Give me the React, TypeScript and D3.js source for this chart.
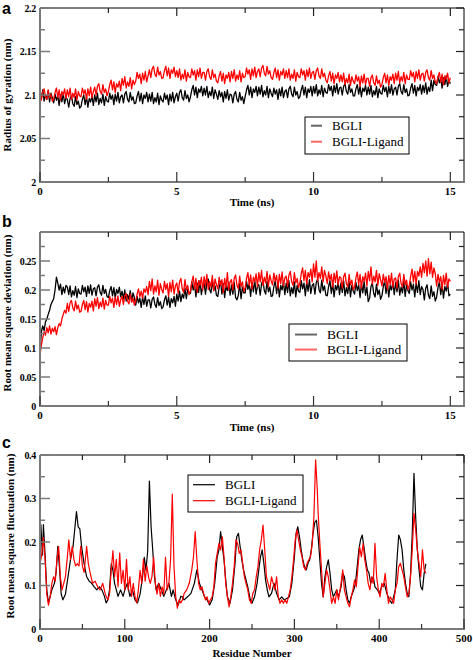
import React from "react";
import * as d3 from "d3";

const W = 473;
const H = 660;

// ---------- data (sampled every 0.05 ns) ----------
const timeNs: number[] = d3.range(0, 301).map((i) => i / 20);

const rgBGLI = [
  2.104, 2.096, 2.106, 2.093, 2.100, 2.095, 2.105, 2.092, 2.102, 2.097,
  2.091, 2.101, 2.094, 2.099, 2.088, 2.100, 2.092, 2.102, 2.090, 2.097,
  2.095, 2.086, 2.096, 2.099, 2.090, 2.087, 2.098, 2.089, 2.093, 2.085,
  2.087, 2.095, 2.100, 2.089, 2.098, 2.086, 2.096, 2.092, 2.099, 2.088,
  2.100, 2.092, 2.102, 2.089, 2.096, 2.091, 2.101, 2.088, 2.098, 2.093,
  2.092, 2.102, 2.095, 2.100, 2.089, 2.101, 2.093, 2.103, 2.091, 2.098,
  2.100, 2.091, 2.101, 2.104, 2.095, 2.092, 2.103, 2.094, 2.098, 2.090,
  2.091, 2.099, 2.104, 2.093, 2.102, 2.090, 2.100, 2.096, 2.103, 2.092,
  2.101, 2.093, 2.103, 2.090, 2.097, 2.092, 2.102, 2.089, 2.099, 2.094,
  2.092, 2.102, 2.095, 2.100, 2.089, 2.101, 2.093, 2.103, 2.091, 2.098,
  2.102, 2.093, 2.103, 2.106, 2.097, 2.094, 2.105, 2.096, 2.100, 2.092,
  2.098, 2.106, 2.111, 2.100, 2.109, 2.097, 2.107, 2.103, 2.110, 2.099,
  2.108, 2.100, 2.110, 2.097, 2.104, 2.099, 2.109, 2.096, 2.106, 2.101,
  2.095, 2.105, 2.098, 2.103, 2.092, 2.104, 2.096, 2.106, 2.094, 2.101,
  2.100, 2.091, 2.101, 2.104, 2.095, 2.092, 2.103, 2.094, 2.098, 2.090,
  2.098, 2.106, 2.111, 2.100, 2.109, 2.097, 2.107, 2.103, 2.110, 2.099,
  2.109, 2.101, 2.111, 2.098, 2.105, 2.100, 2.110, 2.097, 2.107, 2.102,
  2.098, 2.108, 2.101, 2.106, 2.095, 2.107, 2.099, 2.109, 2.097, 2.104,
  2.106, 2.097, 2.107, 2.110, 2.101, 2.098, 2.109, 2.100, 2.104, 2.096,
  2.098, 2.106, 2.111, 2.100, 2.109, 2.097, 2.107, 2.103, 2.110, 2.099,
  2.110, 2.102, 2.112, 2.099, 2.106, 2.101, 2.111, 2.098, 2.108, 2.103,
  2.102, 2.112, 2.105, 2.110, 2.099, 2.111, 2.103, 2.113, 2.101, 2.108,
  2.109, 2.100, 2.110, 2.113, 2.104, 2.101, 2.112, 2.103, 2.107, 2.099,
  2.099, 2.107, 2.112, 2.101, 2.110, 2.098, 2.108, 2.104, 2.111, 2.100,
  2.109, 2.101, 2.111, 2.098, 2.105, 2.100, 2.110, 2.097, 2.107, 2.102,
  2.101, 2.111, 2.104, 2.109, 2.098, 2.110, 2.102, 2.112, 2.100, 2.107,
  2.109, 2.100, 2.110, 2.113, 2.104, 2.101, 2.112, 2.103, 2.107, 2.099,
  2.100, 2.108, 2.113, 2.102, 2.111, 2.099, 2.109, 2.105, 2.112, 2.101,
  2.111, 2.103, 2.114, 2.101, 2.109, 2.104, 2.117, 2.105, 2.117, 2.112,
  2.111, 2.121, 2.114, 2.119, 2.108, 2.120, 2.112, 2.122, 2.110, 2.117,
  2.113,
];

const rgLigand = [
  2.103, 2.094, 2.104, 2.107, 2.098, 2.095, 2.106, 2.097, 2.101, 2.093,
  2.095, 2.103, 2.108, 2.097, 2.106, 2.094, 2.104, 2.100, 2.107, 2.096,
  2.106, 2.098, 2.108, 2.095, 2.102, 2.097, 2.107, 2.094, 2.104, 2.099,
  2.098, 2.108, 2.101, 2.106, 2.095, 2.107, 2.099, 2.109, 2.097, 2.104,
  2.109, 2.100, 2.110, 2.113, 2.104, 2.101, 2.112, 2.103, 2.107, 2.099,
  2.104, 2.112, 2.117, 2.106, 2.115, 2.103, 2.113, 2.109, 2.116, 2.105,
  2.119, 2.111, 2.121, 2.108, 2.115, 2.110, 2.120, 2.107, 2.117, 2.112,
  2.116, 2.126, 2.119, 2.124, 2.113, 2.125, 2.117, 2.127, 2.115, 2.122,
  2.129, 2.120, 2.130, 2.133, 2.124, 2.121, 2.132, 2.123, 2.127, 2.119,
  2.120, 2.128, 2.133, 2.122, 2.131, 2.119, 2.129, 2.125, 2.132, 2.121,
  2.128, 2.120, 2.130, 2.117, 2.124, 2.119, 2.129, 2.116, 2.126, 2.121,
  2.120, 2.130, 2.123, 2.128, 2.117, 2.129, 2.121, 2.131, 2.119, 2.126,
  2.126, 2.117, 2.127, 2.130, 2.121, 2.118, 2.129, 2.120, 2.124, 2.116,
  2.114, 2.122, 2.127, 2.116, 2.125, 2.113, 2.123, 2.119, 2.126, 2.115,
  2.127, 2.119, 2.129, 2.116, 2.123, 2.118, 2.128, 2.115, 2.125, 2.120,
  2.121, 2.131, 2.124, 2.129, 2.118, 2.130, 2.122, 2.132, 2.120, 2.127,
  2.130, 2.121, 2.131, 2.134, 2.125, 2.122, 2.133, 2.124, 2.128, 2.120,
  2.118, 2.126, 2.131, 2.120, 2.129, 2.117, 2.127, 2.123, 2.130, 2.119,
  2.128, 2.120, 2.130, 2.117, 2.124, 2.119, 2.129, 2.116, 2.126, 2.121,
  2.120, 2.130, 2.123, 2.128, 2.117, 2.129, 2.121, 2.131, 2.119, 2.126,
  2.127, 2.118, 2.128, 2.131, 2.122, 2.119, 2.130, 2.121, 2.125, 2.117,
  2.114, 2.122, 2.127, 2.116, 2.125, 2.113, 2.123, 2.119, 2.126, 2.115,
  2.123, 2.115, 2.125, 2.112, 2.119, 2.114, 2.124, 2.111, 2.121, 2.116,
  2.113, 2.123, 2.116, 2.121, 2.110, 2.122, 2.114, 2.124, 2.112, 2.119,
  2.119, 2.110, 2.120, 2.123, 2.114, 2.111, 2.122, 2.113, 2.117, 2.109,
  2.112, 2.120, 2.125, 2.114, 2.123, 2.111, 2.121, 2.117, 2.124, 2.113,
  2.125, 2.117, 2.127, 2.114, 2.121, 2.116, 2.126, 2.113, 2.123, 2.118,
  2.118, 2.128, 2.121, 2.126, 2.115, 2.127, 2.119, 2.129, 2.117, 2.124,
  2.125, 2.116, 2.126, 2.129, 2.120, 2.117, 2.128, 2.119, 2.123, 2.115,
  2.113, 2.121, 2.126, 2.115, 2.124, 2.112, 2.122, 2.118, 2.125, 2.114,
  2.120,
];

const rmsdBGLI = [
  0.095, 0.128, 0.138, 0.130, 0.145, 0.150, 0.158, 0.165, 0.175, 0.180,
  0.185, 0.200, 0.222, 0.212, 0.200, 0.210, 0.192, 0.205, 0.195, 0.208,
  0.205, 0.192, 0.207, 0.188, 0.199, 0.191, 0.206, 0.187, 0.202, 0.194,
  0.193, 0.208, 0.197, 0.205, 0.189, 0.207, 0.194, 0.209, 0.191, 0.202,
  0.204, 0.190, 0.205, 0.209, 0.196, 0.191, 0.208, 0.194, 0.201, 0.189,
  0.187, 0.199, 0.206, 0.190, 0.204, 0.186, 0.201, 0.194, 0.205, 0.188,
  0.198, 0.185, 0.200, 0.181, 0.192, 0.184, 0.199, 0.180, 0.195, 0.187,
  0.174, 0.189, 0.178, 0.186, 0.170, 0.188, 0.175, 0.190, 0.172, 0.183,
  0.183, 0.169, 0.184, 0.188, 0.175, 0.170, 0.187, 0.173, 0.180, 0.168,
  0.171, 0.183, 0.190, 0.174, 0.188, 0.170, 0.185, 0.178, 0.189, 0.172,
  0.193, 0.181, 0.198, 0.180, 0.193, 0.186, 0.203, 0.185, 0.202, 0.195,
  0.194, 0.214, 0.200, 0.210, 0.188, 0.212, 0.196, 0.216, 0.192, 0.206,
  0.211, 0.193, 0.213, 0.219, 0.201, 0.195, 0.217, 0.199, 0.207, 0.191,
  0.189, 0.205, 0.215, 0.193, 0.211, 0.187, 0.207, 0.199, 0.213, 0.191,
  0.209, 0.193, 0.213, 0.187, 0.183, 0.191, 0.211, 0.185, 0.205, 0.195,
  0.195, 0.215, 0.201, 0.211, 0.189, 0.213, 0.197, 0.217, 0.193, 0.207,
  0.209, 0.191, 0.211, 0.217, 0.199, 0.193, 0.215, 0.197, 0.205, 0.189,
  0.190, 0.206, 0.216, 0.194, 0.212, 0.188, 0.208, 0.200, 0.214, 0.192,
  0.212, 0.196, 0.216, 0.190, 0.204, 0.194, 0.214, 0.188, 0.208, 0.198,
  0.196, 0.216, 0.202, 0.212, 0.190, 0.214, 0.198, 0.218, 0.194, 0.208,
  0.211, 0.193, 0.213, 0.219, 0.201, 0.195, 0.217, 0.199, 0.207, 0.191,
  0.190, 0.206, 0.216, 0.194, 0.212, 0.188, 0.208, 0.200, 0.214, 0.192,
  0.212, 0.196, 0.216, 0.190, 0.204, 0.194, 0.214, 0.188, 0.208, 0.198,
  0.193, 0.213, 0.199, 0.209, 0.187, 0.211, 0.195, 0.215, 0.191, 0.205,
  0.180, 0.186, 0.206, 0.212, 0.194, 0.188, 0.210, 0.192, 0.200, 0.184,
  0.190, 0.206, 0.216, 0.194, 0.212, 0.188, 0.208, 0.200, 0.214, 0.192,
  0.213, 0.197, 0.217, 0.191, 0.205, 0.195, 0.215, 0.189, 0.209, 0.199,
  0.194, 0.214, 0.200, 0.210, 0.188, 0.212, 0.196, 0.216, 0.192, 0.206,
  0.201, 0.183, 0.203, 0.209, 0.191, 0.185, 0.207, 0.189, 0.197, 0.181,
  0.188, 0.204, 0.214, 0.192, 0.210, 0.186, 0.206, 0.198, 0.212, 0.190,
  0.193,
];

const rmsdLigand = [
  0.088, 0.105, 0.118, 0.128, 0.122, 0.135, 0.126, 0.138, 0.124, 0.134,
  0.128, 0.137, 0.123, 0.135, 0.142, 0.138, 0.150, 0.158, 0.165, 0.160,
  0.177, 0.163, 0.178, 0.182, 0.169, 0.164, 0.181, 0.167, 0.174, 0.162,
  0.163, 0.175, 0.182, 0.166, 0.180, 0.162, 0.177, 0.170, 0.181, 0.164,
  0.185, 0.172, 0.187, 0.168, 0.179, 0.171, 0.186, 0.167, 0.182, 0.174,
  0.174, 0.189, 0.178, 0.186, 0.170, 0.188, 0.175, 0.190, 0.172, 0.183,
  0.189, 0.175, 0.190, 0.194, 0.181, 0.176, 0.193, 0.179, 0.186, 0.174,
  0.181, 0.193, 0.202, 0.188, 0.198, 0.186, 0.202, 0.196, 0.206, 0.192,
  0.215, 0.199, 0.219, 0.193, 0.207, 0.197, 0.217, 0.191, 0.211, 0.201,
  0.195, 0.215, 0.201, 0.211, 0.189, 0.213, 0.197, 0.217, 0.193, 0.207,
  0.212, 0.194, 0.214, 0.220, 0.202, 0.196, 0.218, 0.200, 0.208, 0.192,
  0.198, 0.214, 0.224, 0.202, 0.220, 0.196, 0.216, 0.208, 0.222, 0.200,
  0.223, 0.207, 0.227, 0.201, 0.215, 0.205, 0.225, 0.199, 0.219, 0.209,
  0.202, 0.222, 0.208, 0.218, 0.196, 0.220, 0.204, 0.230, 0.200, 0.214,
  0.218, 0.200, 0.220, 0.226, 0.208, 0.202, 0.224, 0.206, 0.214, 0.198,
  0.204, 0.220, 0.230, 0.208, 0.226, 0.202, 0.222, 0.214, 0.228, 0.206,
  0.230, 0.214, 0.234, 0.208, 0.222, 0.212, 0.232, 0.206, 0.226, 0.216,
  0.209, 0.229, 0.215, 0.225, 0.203, 0.227, 0.211, 0.231, 0.207, 0.221,
  0.224, 0.206, 0.226, 0.232, 0.214, 0.208, 0.230, 0.212, 0.220, 0.204,
  0.212, 0.228, 0.238, 0.216, 0.234, 0.210, 0.230, 0.222, 0.236, 0.214,
  0.245, 0.222, 0.250, 0.216, 0.230, 0.220, 0.240, 0.214, 0.234, 0.224,
  0.211, 0.231, 0.217, 0.227, 0.205, 0.229, 0.213, 0.233, 0.209, 0.223,
  0.221, 0.203, 0.223, 0.229, 0.211, 0.205, 0.227, 0.209, 0.217, 0.201,
  0.205, 0.221, 0.231, 0.209, 0.227, 0.203, 0.223, 0.215, 0.229, 0.207,
  0.232, 0.216, 0.240, 0.210, 0.224, 0.214, 0.234, 0.208, 0.228, 0.218,
  0.207, 0.227, 0.213, 0.223, 0.201, 0.225, 0.209, 0.229, 0.205, 0.219,
  0.221, 0.203, 0.223, 0.229, 0.211, 0.205, 0.227, 0.209, 0.217, 0.201,
  0.208, 0.224, 0.236, 0.214, 0.232, 0.210, 0.232, 0.224, 0.240, 0.222,
  0.246, 0.230, 0.250, 0.224, 0.254, 0.228, 0.248, 0.222, 0.238, 0.228,
  0.207, 0.227, 0.213, 0.223, 0.201, 0.225, 0.209, 0.229, 0.205, 0.219,
  0.215,
];

// [residue, RMSF (nm)]
const rmsfBGLI: [number, number][] = [
  [0, 0.18], [1, 0.24], [2, 0.2], [3, 0.17], [4, 0.24], [6, 0.17], [8, 0.09], [10, 0.06],
  [12, 0.075], [14, 0.09], [17, 0.105], [19, 0.13], [21, 0.19], [23, 0.14], [25, 0.08],
  [27, 0.067], [30, 0.08], [33, 0.12], [36, 0.16], [39, 0.19], [41, 0.23], [43, 0.27],
  [45, 0.235], [47, 0.23], [49, 0.19], [52, 0.15], [55, 0.12], [58, 0.11], [61, 0.105],
  [64, 0.097], [67, 0.09], [70, 0.097], [73, 0.09], [76, 0.075], [78, 0.06], [80, 0.067],
  [82, 0.09], [84, 0.15], [86, 0.135], [88, 0.105], [90, 0.09], [92, 0.075], [95, 0.09],
  [98, 0.075], [100, 0.09], [103, 0.105], [106, 0.075], [109, 0.09], [112, 0.067],
  [115, 0.06], [118, 0.08], [121, 0.12], [123, 0.165], [125, 0.135], [127, 0.18],
  [129, 0.34], [131, 0.235], [133, 0.18], [135, 0.12], [137, 0.09], [140, 0.105],
  [143, 0.09], [146, 0.075], [149, 0.09], [152, 0.105], [155, 0.075], [157, 0.09],
  [160, 0.067], [163, 0.055], [166, 0.075], [168, 0.074], [170, 0.067], [174, 0.074],
  [178, 0.082], [182, 0.105], [185, 0.136], [188, 0.105], [191, 0.09], [194, 0.074],
  [197, 0.067], [200, 0.055], [203, 0.067], [206, 0.105], [209, 0.166], [211, 0.182],
  [213, 0.224], [215, 0.189], [217, 0.159], [219, 0.113], [221, 0.074], [224, 0.059],
  [227, 0.09], [230, 0.151], [232, 0.212], [234, 0.22], [236, 0.189], [238, 0.159],
  [240, 0.136], [242, 0.12], [245, 0.097], [248, 0.067], [250, 0.059], [253, 0.074],
  [256, 0.105], [258, 0.136], [260, 0.166], [262, 0.182], [264, 0.151], [266, 0.113],
  [268, 0.09], [270, 0.074], [273, 0.082], [276, 0.105], [279, 0.082], [282, 0.067],
  [285, 0.074], [288, 0.067], [291, 0.07], [294, 0.074], [297, 0.105], [300, 0.166],
  [302, 0.22], [304, 0.235], [306, 0.212], [308, 0.182], [310, 0.159], [312, 0.143],
  [314, 0.136], [316, 0.151], [318, 0.159], [320, 0.182], [322, 0.22], [324, 0.245],
  [326, 0.25], [328, 0.212], [330, 0.159], [332, 0.105], [334, 0.074], [336, 0.12],
  [338, 0.143], [340, 0.159], [342, 0.128], [344, 0.09], [346, 0.074], [348, 0.082],
  [350, 0.09], [352, 0.074], [355, 0.097], [357, 0.128], [359, 0.12], [361, 0.09],
  [363, 0.067], [365, 0.059], [367, 0.074], [370, 0.09], [372, 0.105], [374, 0.143],
  [376, 0.182], [378, 0.205], [380, 0.216], [382, 0.189], [384, 0.159], [386, 0.136],
  [388, 0.128], [390, 0.105], [393, 0.12], [395, 0.097], [398, 0.09], [400, 0.082],
  [403, 0.097], [406, 0.105], [409, 0.082], [412, 0.067], [415, 0.059], [417, 0.074],
  [419, 0.09], [421, 0.159], [423, 0.216], [425, 0.205], [427, 0.182], [429, 0.136],
  [431, 0.105], [433, 0.082], [435, 0.074], [437, 0.128], [439, 0.22], [441, 0.358],
  [443, 0.258], [445, 0.182], [447, 0.136], [449, 0.097], [451, 0.09], [453, 0.128],
  [455, 0.15],
];

const rmsfLigand: [number, number][] = [
  [0, 0.15], [2, 0.17], [4, 0.21], [6, 0.16], [8, 0.08], [10, 0.055], [12, 0.075],
  [14, 0.105], [16, 0.12], [18, 0.11], [20, 0.16], [22, 0.19], [24, 0.12], [26, 0.09],
  [28, 0.105], [30, 0.12], [32, 0.16], [34, 0.205], [36, 0.16], [38, 0.19], [40, 0.16],
  [42, 0.145], [44, 0.15], [46, 0.145], [48, 0.19], [50, 0.145], [52, 0.13], [55, 0.19],
  [57, 0.15], [59, 0.13], [62, 0.105], [65, 0.11], [68, 0.097], [71, 0.09], [74, 0.105],
  [77, 0.08], [80, 0.067], [82, 0.08], [84, 0.135], [86, 0.18], [88, 0.12], [90, 0.16],
  [92, 0.097], [94, 0.175], [96, 0.105], [98, 0.135], [100, 0.09], [102, 0.16], [104, 0.09],
  [106, 0.12], [108, 0.075], [110, 0.105], [112, 0.075], [114, 0.06], [116, 0.09],
  [118, 0.135], [120, 0.105], [122, 0.16], [124, 0.11], [126, 0.145], [128, 0.12],
  [130, 0.105], [132, 0.12], [134, 0.165], [136, 0.105], [138, 0.08], [140, 0.105],
  [142, 0.075], [144, 0.097], [146, 0.08], [148, 0.165], [150, 0.09], [152, 0.105],
  [154, 0.16], [156, 0.31], [158, 0.145], [160, 0.075], [162, 0.048], [164, 0.067],
  [166, 0.06], [168, 0.067], [170, 0.082], [173, 0.09], [176, 0.105], [179, 0.136],
  [181, 0.166], [183, 0.224], [185, 0.159], [187, 0.105], [189, 0.09], [191, 0.097],
  [193, 0.082], [195, 0.067], [197, 0.074], [199, 0.059], [201, 0.067], [203, 0.074],
  [205, 0.097], [207, 0.151], [209, 0.174], [211, 0.197], [213, 0.182], [215, 0.212],
  [217, 0.166], [219, 0.105], [221, 0.074], [223, 0.051], [225, 0.074], [227, 0.105],
  [229, 0.143], [231, 0.205], [233, 0.197], [235, 0.174], [237, 0.182], [239, 0.151],
  [241, 0.12], [243, 0.105], [245, 0.09], [247, 0.067], [249, 0.059], [251, 0.082],
  [253, 0.09], [255, 0.12], [257, 0.143], [259, 0.182], [261, 0.205], [263, 0.239],
  [265, 0.182], [267, 0.12], [269, 0.105], [271, 0.09], [273, 0.12], [275, 0.105],
  [277, 0.09], [279, 0.12], [281, 0.074], [283, 0.059], [285, 0.067], [287, 0.059],
  [289, 0.067], [291, 0.059], [293, 0.074], [295, 0.09], [297, 0.12], [299, 0.159],
  [301, 0.205], [303, 0.228], [305, 0.205], [307, 0.182], [309, 0.166], [311, 0.143],
  [313, 0.136], [315, 0.151], [317, 0.159], [319, 0.166], [321, 0.197], [323, 0.258],
  [325, 0.389], [327, 0.32], [328, 0.266], [330, 0.197], [332, 0.136], [334, 0.074],
  [336, 0.105], [338, 0.136], [340, 0.12], [342, 0.09], [344, 0.059], [346, 0.074],
  [348, 0.059], [350, 0.09], [352, 0.067], [355, 0.105], [357, 0.136], [359, 0.09],
  [361, 0.074], [363, 0.059], [365, 0.051], [367, 0.074], [369, 0.09], [371, 0.113],
  [373, 0.097], [375, 0.143], [377, 0.189], [379, 0.166], [381, 0.197], [383, 0.159],
  [385, 0.136], [387, 0.105], [389, 0.09], [391, 0.12], [393, 0.105], [395, 0.197],
  [397, 0.12], [399, 0.09], [401, 0.074], [403, 0.105], [405, 0.097], [407, 0.128],
  [409, 0.09], [411, 0.059], [413, 0.074], [415, 0.067], [417, 0.059], [419, 0.09],
  [421, 0.105], [423, 0.143], [425, 0.151], [427, 0.136], [429, 0.12], [431, 0.097],
  [433, 0.074], [435, 0.082], [437, 0.12], [439, 0.182], [441, 0.266], [443, 0.228],
  [445, 0.182], [447, 0.151], [449, 0.12], [451, 0.182], [453, 0.136], [455, 0.128],
];

const seriesNames = ["BGLI", "BGLI-Ligand"];
const seriesColors = ["#000000", "#ff0000"];

const timeMajor = [0, 5, 10, 15];
const timeMinor = [2.5, 7.5, 12.5];
const rgMajor = [2, 2.05, 2.1, 2.15, 2.2];
const rgMinor = [2.025, 2.075, 2.125, 2.175];
const rmsdMajor = [0, 0.05, 0.1, 0.15, 0.2, 0.25];
const rmsdMinor = [0.025, 0.075, 0.125, 0.175, 0.225, 0.275];
const residueMajor = [0, 100, 200, 300, 400, 500];
const residueMinor = [50, 150, 250, 350, 450];
const rmsfMajor = [0, 0.1, 0.2, 0.3, 0.4];
const rmsfMinor = [0.05, 0.15, 0.25, 0.35];

// ---------- layout ----------
const LEFT = 40;
const RIGHT = 464;
const SERIF = "'Liberation Serif', 'Times New Roman', serif";
const SANS = "'Liberation Sans', Arial, sans-serif";

type Legend = { x0: number; x1: number; y0: number; y1: number; lineX0: number; lineX1: number; textX: number; rows: number[]; fs: number; faded: boolean };

type PanelProps = {
  letter: string;
  letterY: number;
  top: number;
  bottom: number;
  xDomain: [number, number];
  yDomain: [number, number];
  xMajor: number[];
  xMinor: number[];
  yMajor: number[];
  yMinor: number[];
  series: [number, number][][];
  lineWidth: number;
  yTitle: string;
  yTitleX: number;
  yTitleY: number;
  xTitle: string;
  xTitleY: number;
  legend: Legend;
};

function fmt(v: number) {
  return String(+v.toFixed(3));
}

function Panel(p: PanelProps) {
  const x = d3.scaleLinear().domain(p.xDomain).range([LEFT, RIGHT]);
  const y = d3.scaleLinear().domain(p.yDomain).range([p.bottom, p.top]);
  const line = d3
    .line<[number, number]>()
    .x((d) => x(d[0]))
    .y((d) => y(d[1]));
  const gray = "#7a7a7a";
  const lg = p.legend;
  return (
    <g>
      <text x={2} y={p.letterY} fontFamily={SANS} fontWeight="bold" fontSize={16}>
        {p.letter}
      </text>
      {/* data */}
      {p.series.map((s, i) => (
        <path key={i} d={line(s) || ""} fill="none" stroke={seriesColors[i]} strokeWidth={p.lineWidth} strokeLinejoin="round" />
      ))}
      {/* frame top/right */}
      <line x1={LEFT} x2={RIGHT} y1={p.top} y2={p.top} stroke="#000" strokeWidth={1} />
      <line x1={RIGHT} x2={RIGHT} y1={p.top} y2={p.bottom} stroke="#000" strokeWidth={1} />
      {/* top / right ticks */}
      {p.xMajor.map((v) => (
        <line key={"tM" + v} x1={x(v)} x2={x(v)} y1={p.top} y2={p.top + 8} stroke="#222" strokeWidth={1.2} />
      ))}
      {p.xMinor.map((v) => (
        <line key={"tm" + v} x1={x(v)} x2={x(v)} y1={p.top} y2={p.top + 5} stroke="#222" strokeWidth={1.2} />
      ))}
      {p.yMajor.map((v) => (
        <line key={"rM" + v} x1={RIGHT - 8} x2={RIGHT} y1={y(v)} y2={y(v)} stroke="#222" strokeWidth={1.2} />
      ))}
      {p.yMinor.map((v) => (
        <line key={"rm" + v} x1={RIGHT - 5} x2={RIGHT} y1={y(v)} y2={y(v)} stroke="#222" strokeWidth={1.2} />
      ))}
      {/* bottom / left axes */}
      <line x1={LEFT} x2={RIGHT + 1} y1={p.bottom} y2={p.bottom} stroke={gray} strokeWidth={2} />
      <line x1={LEFT} x2={LEFT} y1={p.top} y2={p.bottom + 1} stroke={gray} strokeWidth={2} />
      {p.xMajor.map((v) => (
        <line key={"bM" + v} x1={x(v)} x2={x(v)} y1={p.bottom} y2={p.bottom - 10} stroke="#333" strokeWidth={1.2} />
      ))}
      {p.xMinor.map((v) => (
        <line key={"bm" + v} x1={x(v)} x2={x(v)} y1={p.bottom} y2={p.bottom - 5} stroke="#333" strokeWidth={1.2} />
      ))}
      {p.yMajor.map((v) => (
        <line key={"lM" + v} x1={LEFT} x2={LEFT + 10} y1={y(v)} y2={y(v)} stroke={gray} strokeWidth={1.5} />
      ))}
      {p.yMinor.map((v) => (
        <line key={"lm" + v} x1={LEFT} x2={LEFT + 5} y1={y(v)} y2={y(v)} stroke={gray} strokeWidth={1.5} />
      ))}
      {/* tick labels */}
      {p.xMajor.map((v) => (
        <text key={"xl" + v} x={x(v)} y={p.bottom + 13} textAnchor="middle" fontFamily={SERIF} fontWeight="bold" fontSize={11}>
          {fmt(v)}
        </text>
      ))}
      {p.yMajor.map((v) => (
        <text key={"yl" + v} x={36} y={y(v)} dy="0.35em" textAnchor="end" fontFamily={SERIF} fontWeight="bold" fontSize={10} letterSpacing={-0.3}>
          {fmt(v)}
        </text>
      ))}
      {/* titles */}
      <text x={(LEFT + RIGHT) / 2} y={p.xTitleY} textAnchor="middle" fontFamily={SERIF} fontWeight="bold" fontSize={11}>
        {p.xTitle}
      </text>
      <text
        transform={`translate(${p.yTitleX},${p.yTitleY}) rotate(-90)`}
        textAnchor="middle"
        fontFamily={SERIF}
        fontWeight="bold"
        fontSize={11}
      >
        {p.yTitle}
      </text>
      {/* legend */}
      <rect x={lg.x0} y={lg.y0} width={lg.x1 - lg.x0} height={lg.y1 - lg.y0} fill="#fff" stroke="#000" strokeWidth={1} />
      {seriesNames.map((n, i) => (
        <g key={n}>
          <line
            x1={lg.lineX0}
            x2={lg.lineX1}
            y1={lg.rows[i] - lg.fs * 0.33}
            y2={lg.rows[i] - lg.fs * 0.33}
            stroke={seriesColors[i]}
            strokeWidth={lg.faded ? 2 : 1.2}
            strokeOpacity={lg.faded ? 0.6 : 1}
          />
          <text x={lg.textX} y={lg.rows[i]} fontFamily={SERIF} fontSize={lg.fs}>
            {n}
          </text>
        </g>
      ))}
    </g>
  );
}

export default function App() {
  const zip = (xs: number[], ys: number[]) => xs.map((t, i) => [t, ys[i]] as [number, number]);
  return (
    <svg width={W} height={H} style={{ position: "absolute", left: 0, top: 0, background: "#fff" }}>
      <Panel
        letter="a"
        letterY={14}
        top={8}
        bottom={182}
        xDomain={[0, 15.5]}
        yDomain={[2, 2.2]}
        xMajor={timeMajor}
        xMinor={timeMinor}
        yMajor={rgMajor}
        yMinor={rgMinor}
        series={[zip(timeNs, rgBGLI), zip(timeNs, rgLigand)]}
        lineWidth={1.3}
        yTitle="Radius of gyration (nm)"
        yTitleX={10.5}
        yTitleY={95}
        xTitle="Time (ns)"
        xTitleY={206}
        legend={{ x0: 305, x1: 409, y0: 117, y1: 154, lineX0: 311, lineX1: 322, textX: 332, rows: [130, 146], fs: 13, faded: true }}
      />
      <Panel
        letter="b"
        letterY={227}
        top={232}
        bottom={406}
        xDomain={[0, 15.5]}
        yDomain={[0, 0.3]}
        xMajor={timeMajor}
        xMinor={timeMinor}
        yMajor={rmsdMajor}
        yMinor={rmsdMinor}
        series={[zip(timeNs, rmsdBGLI), zip(timeNs, rmsdLigand)]}
        lineWidth={1.3}
        yTitle="Root mean square deviation (nm)"
        yTitleX={10.5}
        yTitleY={313}
        xTitle="Time (ns)"
        xTitleY={431}
        legend={{ x0: 289, x1: 407, y0: 324, y1: 361, lineX0: 295, lineX1: 317, textX: 327, rows: [339, 354], fs: 13.5, faded: true }}
      />
      <Panel
        letter="c"
        letterY={448}
        top={455}
        bottom={629}
        xDomain={[0, 500]}
        yDomain={[0, 0.4]}
        xMajor={residueMajor}
        xMinor={residueMinor}
        yMajor={rmsfMajor}
        yMinor={rmsfMinor}
        series={[rmsfBGLI, rmsfLigand]}
        lineWidth={1.2}
        yTitle="Root mean square fluctuation (nm)"
        yTitleX={14}
        yTitleY={536}
        xTitle="Residue Number"
        xTitleY={657}
        legend={{ x0: 188, x1: 303, y0: 475, y1: 512, lineX0: 193, lineX1: 215, textX: 225, rows: [489, 505], fs: 13, faded: false }}
      />
    </svg>
  );
}
